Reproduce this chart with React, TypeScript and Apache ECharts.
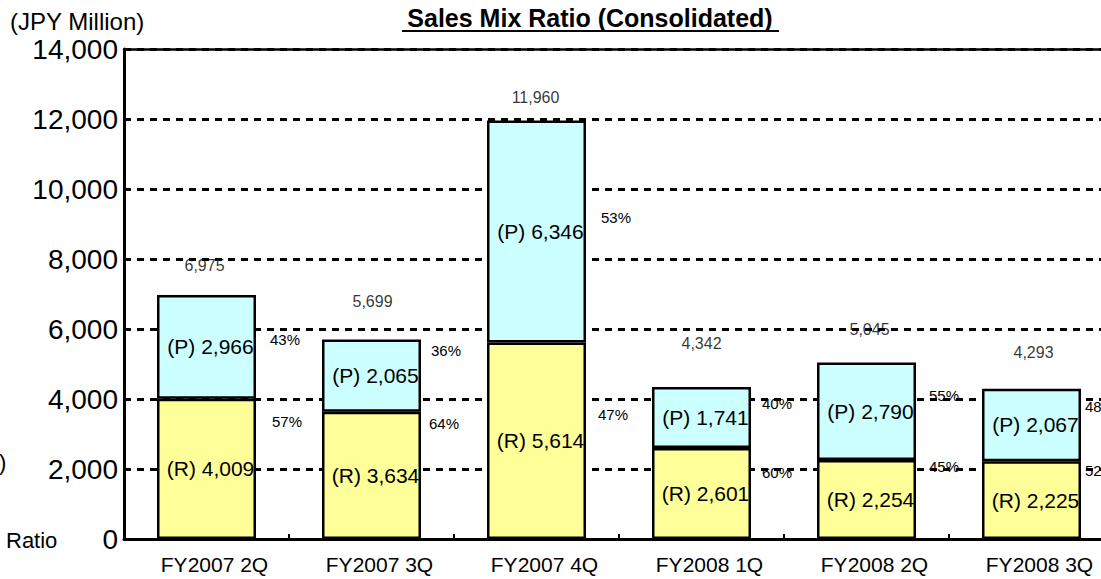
import React, { useEffect, useRef } from "react";
import * as echarts from "echarts";

const categories = ["FY2007 2Q", "FY2007 3Q", "FY2007 4Q", "FY2008 1Q", "FY2008 2Q", "FY2008 3Q"];
const rValues = [4009, 3634, 5614, 2601, 2254, 2225];
const pValues = [2966, 2065, 6346, 1741, 2790, 2067];
const totals = [6975, 5699, 11960, 4342, 5045, 4293];
const pRatios = [43, 36, 53, 40, 55, 48];
const rRatios = [57, 64, 47, 60, 45, 52];
const yMin = 0;
const yMax = 14000;
const yInterval = 2000;

// label placement tweaks (styling only)
const pPctOffset = [[14, -7], [10, -25], [15, -14], [11, -14], [13, -16], [4, -18]];
const rPctOffset = [[16, -47], [8, -52], [12, -26], [11, -21], [13, -33], [4, -30]];
const totalOffset = [[-2, -29], [1, -38], [-1, -23], [0, -44], [3, -33], [2, -36]];

const FONT = 'Arial, "Liberation Sans", sans-serif';
const fmt = (v: number) => v.toLocaleString("en-US");

export default function App() {
  const ref = useRef<HTMLDivElement>(null);
  useEffect(() => {
    const chart = echarts.init(ref.current!, null, { renderer: "svg" });
    const barCommon = {
      type: "bar" as const,
      barWidth: 99,
      silent: true,
    };
    chart.setOption({
      animation: false,
      textStyle: { fontFamily: FONT, color: "#000" },
      grid: { left: 124, top: 49, width: 990, height: 490, containLabel: false },
      xAxis: [
        {
          type: "category",
          data: categories,
          position: "bottom",
          axisLine: { show: true, lineStyle: { color: "#000", width: 3 } },
          axisTick: { show: true, inside: true, length: 5, lineStyle: { color: "#000", width: 2 } },
          axisLabel: {
            fontSize: 21,
            color: "#000",
            fontFamily: FONT,
            margin: 15,
            padding: [0, 0, 0, 16],
          },
          splitLine: { show: false },
        },
        {
          type: "category",
          data: categories,
          position: "top",
          axisLine: { show: true, lineStyle: { color: "#000", width: 2.5 } },
          axisTick: { show: false },
          axisLabel: { show: false },
        },
      ],
      yAxis: {
        type: "value",
        min: yMin,
        max: yMax,
        interval: yInterval,
        axisLine: { show: true, lineStyle: { color: "#000", width: 3 } },
        axisTick: { show: false },
        axisLabel: {
          fontSize: 28,
          color: "#000",
          fontFamily: FONT,
          margin: 6,
          formatter: (v: number) => fmt(v),
        },
        splitLine: { show: true, lineStyle: { color: "#000", width: 3, type: [7, 6] } },
      },
      series: [
        {
          ...barCommon,
          name: "R",
          stack: "a",
          data: rValues,
          itemStyle: { color: "#FFFF99", borderColor: "#000", borderWidth: 2.5 },
          label: {
            show: true,
            position: "inside",
            offset: [4, 0],
            fontSize: 21,
            color: "#000",
            fontFamily: FONT,
            formatter: (p: any) => "(R) " + fmt(p.value),
          },
          z: 3,
        },
        {
          ...barCommon,
          name: "P",
          stack: "a",
          data: pValues,
          itemStyle: { color: "#CCFFFF", borderColor: "#000", borderWidth: 2.5 },
          label: {
            show: true,
            position: "inside",
            offset: [4, 0],
            fontSize: 21,
            color: "#000",
            fontFamily: FONT,
            formatter: (p: any) => "(P) " + fmt(p.value),
          },
          z: 3,
        },
        {
          ...barCommon,
          name: "R%",
          stack: "b",
          data: rValues.map((v, i) => ({ value: v, label: { offset: rPctOffset[i] } })),
          itemStyle: { color: "rgba(0,0,0,0)", borderWidth: 0 },
          label: {
            show: true,
            position: "right",
            distance: 0,
            fontSize: 15,
            color: "#000",
            fontFamily: FONT,
            formatter: (p: any) => rRatios[p.dataIndex] + "%",
          },
          z: 4,
        },
        {
          ...barCommon,
          name: "P%",
          stack: "b",
          barGap: "-100%",
          data: pValues.map((v, i) => ({ value: v, label: { offset: pPctOffset[i] } })),
          itemStyle: { color: "rgba(0,0,0,0)", borderWidth: 0 },
          label: {
            show: true,
            position: "right",
            distance: 0,
            fontSize: 15,
            color: "#000",
            fontFamily: FONT,
            formatter: (p: any) => pRatios[p.dataIndex] + "%",
          },
          z: 4,
        },
        {
          type: "scatter",
          name: "Total",
          silent: true,
          symbolSize: 1,
          itemStyle: { color: "rgba(0,0,0,0)" },
          data: totals.map((v, i) => ({ value: v, label: { offset: totalOffset[i] } })),
          label: {
            show: true,
            position: "inside",
            fontSize: 16,
            color: "#000",
            fontFamily: FONT,
            formatter: (p: any) => fmt(p.value),
          },
          z: 5,
        },
      ],
      graphic: [
        {
          type: "text",
          x: 590,
          y: 18,
          style: {
            text: "Sales Mix Ratio (Consolidated)",
            font: 'bold 25px Arial, "Liberation Sans", sans-serif',
            fill: "#000",
            textAlign: "center",
            textVerticalAlign: "middle",
          },
        },
        {
          type: "line",
          shape: { x1: 402, y1: 31, x2: 779, y2: 31 },
          style: { stroke: "#000", lineWidth: 2 },
        },
        {
          type: "text",
          x: 10,
          y: 21,
          style: {
            text: "(JPY Million)",
            font: '24px Arial, "Liberation Sans", sans-serif',
            fill: "#000",
            textAlign: "left",
            textVerticalAlign: "middle",
          },
        },
        {
          type: "text",
          x: 6,
          y: 540,
          style: {
            text: "Ratio",
            font: '22px Arial, "Liberation Sans", sans-serif',
            fill: "#000",
            textAlign: "left",
            textVerticalAlign: "middle",
          },
        },
        {
          type: "text",
          x: -1,
          y: 462,
          style: {
            text: ")",
            font: '22px Arial, "Liberation Sans", sans-serif',
            fill: "#000",
            textAlign: "left",
            textVerticalAlign: "middle",
          },
        },
      ],
    });
    return () => chart.dispose();
  }, []);
  return (
    <div
      style={{ position: "absolute", left: 0, top: 0, width: 1101, height: 579, overflow: "hidden", background: "#fff" }}
    >
      <div ref={ref} style={{ width: 1120, height: 579 }} />
    </div>
  );
}
